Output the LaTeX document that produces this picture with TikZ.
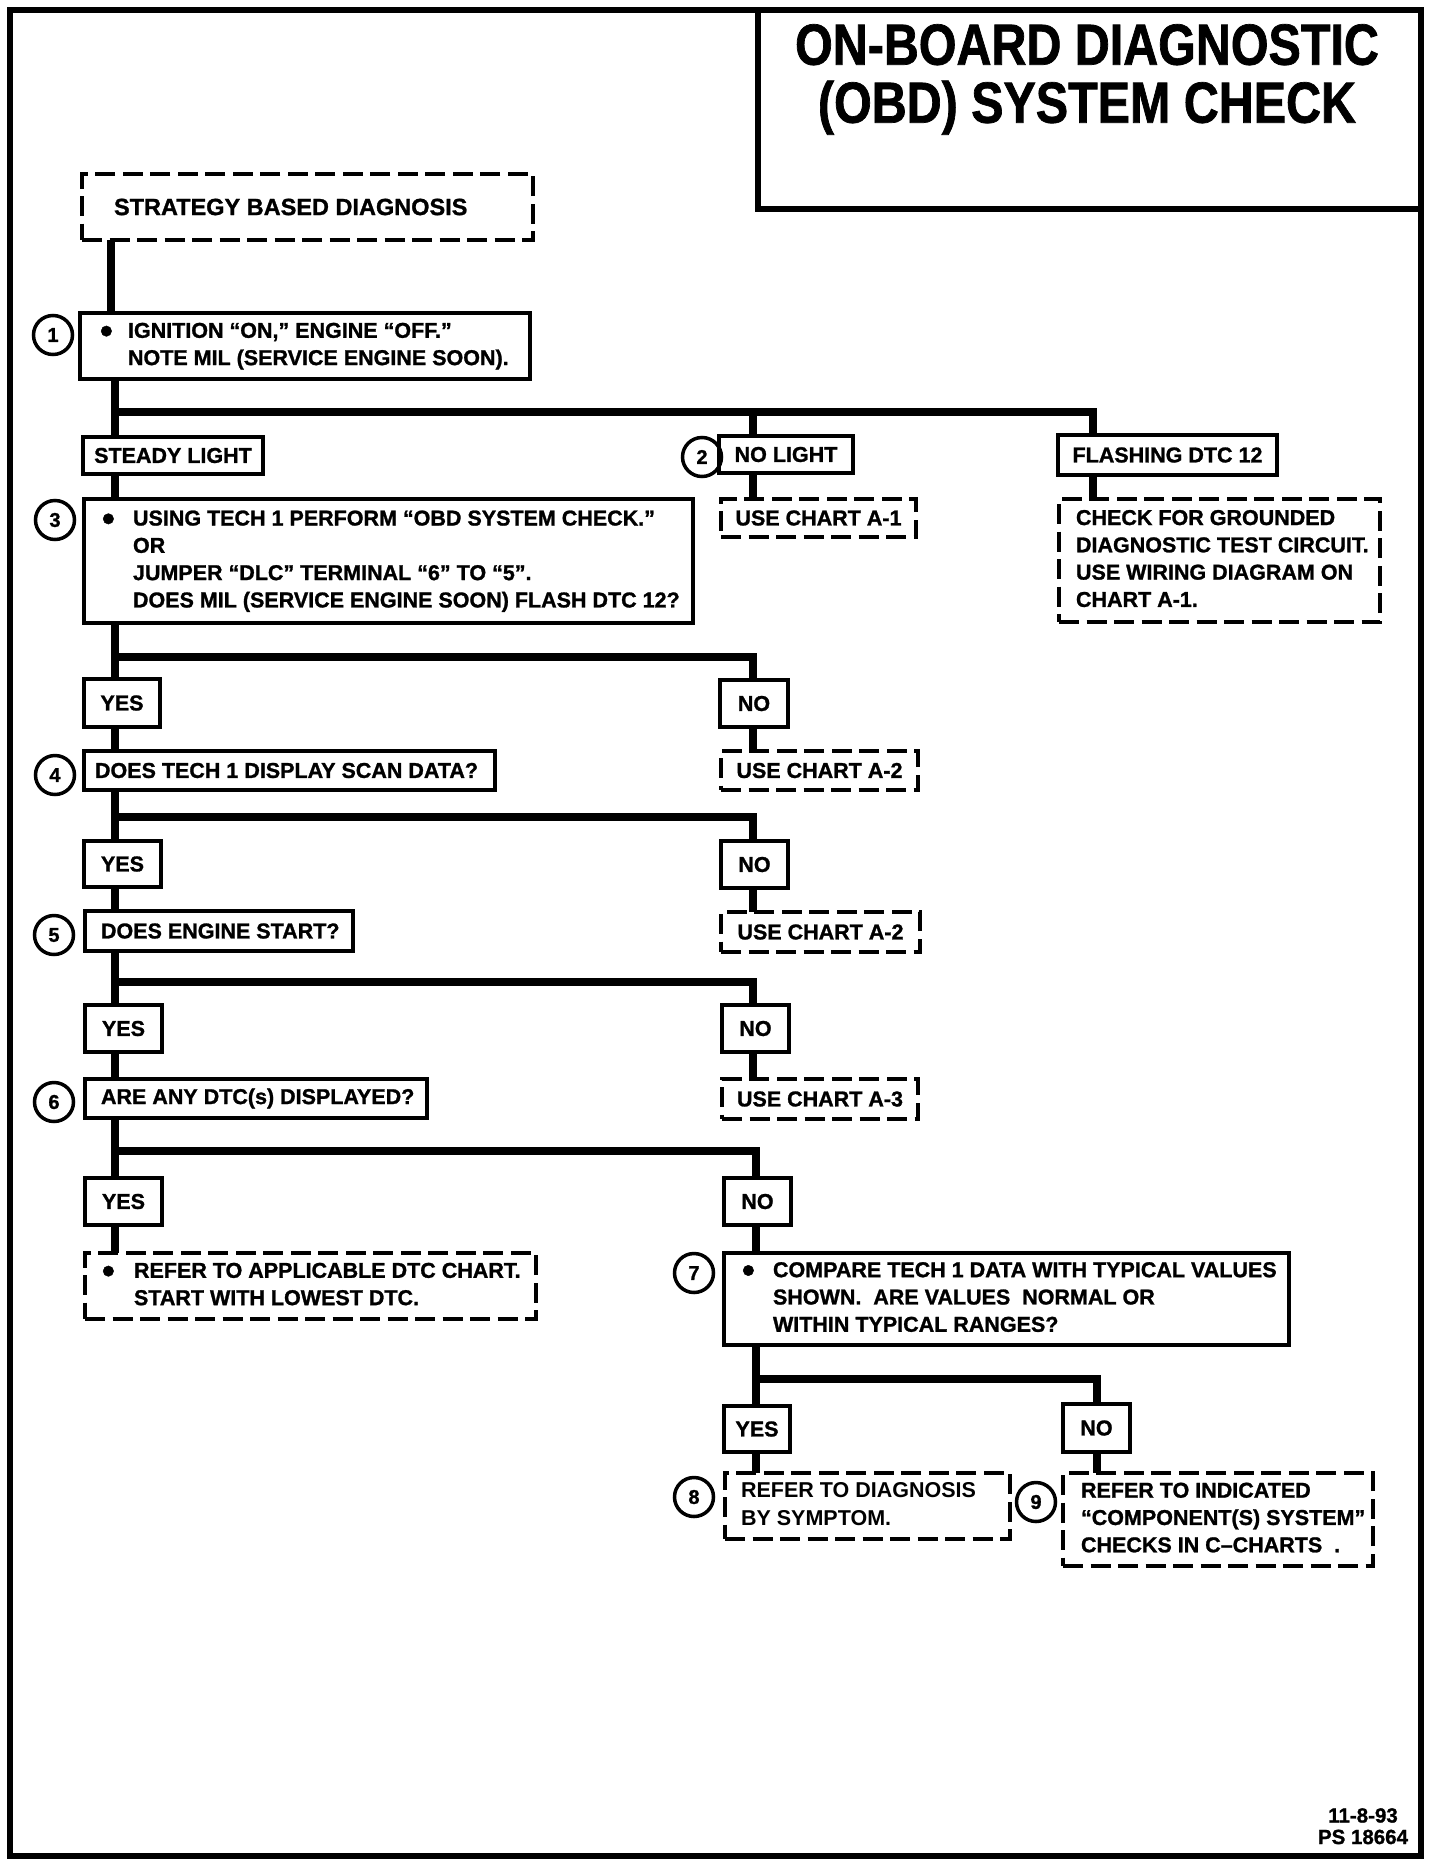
\documentclass[tikz,border=0pt]{standalone}
\usepackage{fontspec}
\usepackage{graphicx}
\setmainfont{Liberation Sans}[BoldFeatures={FakeBold=1.2}]
\newfontfamily\obdplain{Liberation Sans}
\newfontfamily\obdtitlefam{Liberation Sans}[FakeStretch=0.835, BoldFeatures={FakeBold=1.2}]
\newcommand{\obdfont}{\fontsize{21.5}{27.3}\selectfont\bfseries}
\newcommand{\obdbig}{\fontsize{23.5}{28}\selectfont\bfseries}
\newcommand{\obdnum}{\fontsize{20}{24}\selectfont\bfseries}
\newcommand{\obdbul}{\raisebox{-0.25em}{\scalebox{1.7}{\textbullet}}}
\newcommand{\obdlines}[1]{\begin{tabular}{@{}l@{}}#1\end{tabular}}
\newcommand{\obdblines}[2]{\begin{tabular}{@{}l@{}l@{}}\makebox[#1][l]{\obdbul}#2\end{tabular}}
\newcommand{\obdleft}[3]{\makebox[#1][l]{\hspace*{#2}#3}}
\tikzset{
  solidbox/.style={draw, line width=3.5pt, anchor=north west, inner sep=0pt, outer sep=0pt, font=\obdfont},
  dashbox/.style={solidbox, dash pattern=on 20pt off 7.5pt},
  num/.style={circle, draw, line width=3.5pt, minimum size=39pt, inner sep=0pt, font=\obdnum},
  conn/.style={line width=8pt, line join=miter},
  frame/.style={line width=6pt}
}
\begin{document}
\begin{tikzpicture}[x=1pt, y=-1pt]
\useasboundingbox (0,0) rectangle (1440,1866);
% frame and title
\draw[frame] (10,10) rectangle (1421,1856);
\draw[frame] (758,10) rectangle (1421,209);
\node[font=\obdtitlefam\fontsize{58}{58}\selectfont\bfseries, align=center, anchor=north, inner sep=0pt] (title) at (1087,24) {ON-BOARD DIAGNOSTIC\\(OBD) SYSTEM CHECK};
\node[font=\fontsize{20.5}{21.5}\selectfont\bfseries, align=center, anchor=north, inner sep=0pt] (foot) at (1363,1808) {11-8-93\\PS 18664};

% boxes
\node[dashbox, font=\obdbig, minimum width=451pt, minimum height=66pt] (strat) at (82,174) {\obdleft{451pt}{32pt}{STRATEGY BASED DIAGNOSIS}};
\node[solidbox, minimum width=450pt, minimum height=66pt] (b1) at (80,313) {\obdleft{450pt}{20pt}{\obdblines{28pt}{& IGNITION “ON,” ENGINE “OFF.”\\ & NOTE MIL (SERVICE ENGINE SOON).}}};
\node[solidbox, minimum width=180pt, minimum height=37pt] (steady) at (83,437) {STEADY LIGHT};
\node[solidbox, minimum width=134pt, minimum height=37pt] (nolight) at (719,436) {NO LIGHT};
\node[solidbox, minimum width=219pt, minimum height=40pt] (flash) at (1058,435) {FLASHING DTC 12};
\node[dashbox, minimum width=195pt, minimum height=38pt] (a1) at (721,499) {USE CHART A-1};
\node[dashbox, minimum width=321pt, minimum height=123pt] (ground) at (1059,499) {\obdleft{321pt}{17pt}{\obdlines{CHECK FOR GROUNDED\\ DIAGNOSTIC TEST CIRCUIT.\\ USE WIRING DIAGRAM ON\\ CHART A-1.}}};
\node[solidbox, minimum width=609pt, minimum height=124pt] (b3) at (84,499) {\obdleft{609pt}{18pt}{\obdblines{31pt}{& USING TECH 1 PERFORM “OBD SYSTEM CHECK.”\\ & OR\\ & JUMPER “DLC” TERMINAL “6” TO “5”.\\ & DOES MIL (SERVICE ENGINE SOON) FLASH DTC 12?}}};
\node[solidbox, minimum width=76pt, minimum height=48pt] (yes1) at (84,679) {YES};
\node[solidbox, minimum width=68pt, minimum height=47pt] (no1) at (720,680) {NO};
\node[solidbox, minimum width=411pt, minimum height=39pt] (b4) at (84,751) {\obdleft{411pt}{11pt}{DOES TECH 1 DISPLAY SCAN DATA?}};
\node[dashbox, minimum width=197pt, minimum height=39pt] (a2a) at (721,751) {USE CHART A-2};
\node[solidbox, minimum width=77pt, minimum height=46pt] (yes2) at (84,841) {YES};
\node[solidbox, minimum width=67pt, minimum height=47pt] (no2) at (721,841) {NO};
\node[solidbox, minimum width=268pt, minimum height=40pt] (b5) at (85,911) {\obdleft{268pt}{16pt}{DOES ENGINE START?}};
\node[dashbox, minimum width=199pt, minimum height=40pt] (a2b) at (721,912) {USE CHART A-2};
\node[solidbox, minimum width=77pt, minimum height=47pt] (yes3) at (85,1005) {YES};
\node[solidbox, minimum width=67pt, minimum height=47pt] (no3) at (722,1005) {NO};
\node[solidbox, minimum width=342pt, minimum height=39pt] (b6) at (85,1079) {\obdleft{342pt}{16pt}{ARE ANY DTC(s) DISPLAYED?}};
\node[dashbox, minimum width=196pt, minimum height=40pt] (a3) at (722,1079) {USE CHART A-3};
\node[solidbox, minimum width=77pt, minimum height=47pt] (yes4) at (85,1178) {YES};
\node[solidbox, minimum width=67pt, minimum height=47pt] (no4) at (724,1178) {NO};
\node[dashbox, minimum width=451pt, minimum height=66pt] (dtc) at (85,1253) {\obdleft{451pt}{17pt}{\obdblines{32pt}{& REFER TO APPLICABLE DTC CHART.\\ & START WITH LOWEST DTC.}}};
\node[solidbox, minimum width=565pt, minimum height=92pt] (b7) at (724,1253) {\obdleft{565pt}{18pt}{\obdblines{31pt}{& COMPARE TECH 1 DATA WITH TYPICAL VALUES\\ & SHOWN.\ \ ARE VALUES\ \ NORMAL OR\\ & WITHIN TYPICAL RANGES?}}};
\node[solidbox, minimum width=66pt, minimum height=46pt] (yes5) at (724,1406) {YES};
\node[solidbox, minimum width=67pt, minimum height=48pt] (no5) at (1063,1404) {NO};
\node[dashbox, minimum width=285pt, minimum height=66pt] (b8) at (725,1473) {\obdleft{285pt}{16pt}{\obdplain\bfseries\obdlines{REFER TO DIAGNOSIS\\ BY SYMPTOM.}}};
\node[dashbox, minimum width=310pt, minimum height=93pt] (b9) at (1063,1473) {\obdleft{310pt}{18pt}{\obdlines{REFER TO INDICATED\\ “COMPONENT(S) SYSTEM”\\ CHECKS IN C–CHARTS\ \ .}}};

% step numbers
\node[num] (c1) at (53,335) {1};
\node[num] (c2) at (702,457) {2};
\node[num] (c3) at (55,520) {3};
\node[num] (c4) at (55,775) {4};
\node[num] (c5) at (54,935) {5};
\node[num] (c6) at (54,1102) {6};
\node[num] (c7) at (694,1273) {7};
\node[num] (c8) at (694,1497) {8};
\node[num] (c9) at (1036,1502) {9};

% column and row coordinates
\coordinate (xa) at (111,0);
\coordinate (xt) at (115,0);
\coordinate (xn) at (753,0);
\coordinate (xf) at (1093,0);
\coordinate (x7) at (756,0);
\coordinate (x9) at (1097,0);
\coordinate (h1) at (0,412);
\coordinate (h2) at (0,657);
\coordinate (h3) at (0,817);
\coordinate (h4) at (0,982);
\coordinate (h5) at (0,1151);
\coordinate (h6) at (0,1379);

% connectors
\draw[conn] (strat.south -| xa) -- (b1.north -| xa);
\draw[conn] (b1.south -| xt) -- (steady.north -| xt);
\draw[conn] (h1 -| xt) -- (h1 -| xf) -- (flash.north -| xf);
\draw[conn] (h1 -| xn) -- (nolight.north -| xn);
\draw[conn] (steady.south -| xt) -- (b3.north -| xt);
\draw[conn] (nolight.south -| xn) -- (a1.north -| xn);
\draw[conn] (flash.south -| xf) -- (ground.north -| xf);

\draw[conn] (b3.south -| xt) -- (yes1.north -| xt);
\draw[conn] (h2 -| xt) -- (h2 -| xn) -- (no1.north -| xn);
\draw[conn] (yes1.south -| xt) -- (b4.north -| xt);
\draw[conn] (no1.south -| xn) -- (a2a.north -| xn);

\draw[conn] (b4.south -| xt) -- (yes2.north -| xt);
\draw[conn] (h3 -| xt) -- (h3 -| xn) -- (no2.north -| xn);
\draw[conn] (yes2.south -| xt) -- (b5.north -| xt);
\draw[conn] (no2.south -| xn) -- (a2b.north -| xn);

\draw[conn] (b5.south -| xt) -- (yes3.north -| xt);
\draw[conn] (h4 -| xt) -- (h4 -| xn) -- (no3.north -| xn);
\draw[conn] (yes3.south -| xt) -- (b6.north -| xt);
\draw[conn] (no3.south -| xn) -- (a3.north -| xn);

\draw[conn] (b6.south -| xt) -- (yes4.north -| xt);
\draw[conn] (h5 -| xt) -- (h5 -| x7) -- (no4.north -| x7);
\draw[conn] (yes4.south -| xt) -- (dtc.north -| xt);
\draw[conn] (no4.south -| x7) -- (b7.north -| x7);

\draw[conn] (b7.south -| x7) -- (yes5.north -| x7);
\draw[conn] (h6 -| x7) -- (h6 -| x9) -- (no5.north -| x9);
\draw[conn] (yes5.south -| x7) -- (b8.north -| x7);
\draw[conn] (no5.south -| x9) -- (b9.north -| x9);
\end{tikzpicture}
\end{document}
